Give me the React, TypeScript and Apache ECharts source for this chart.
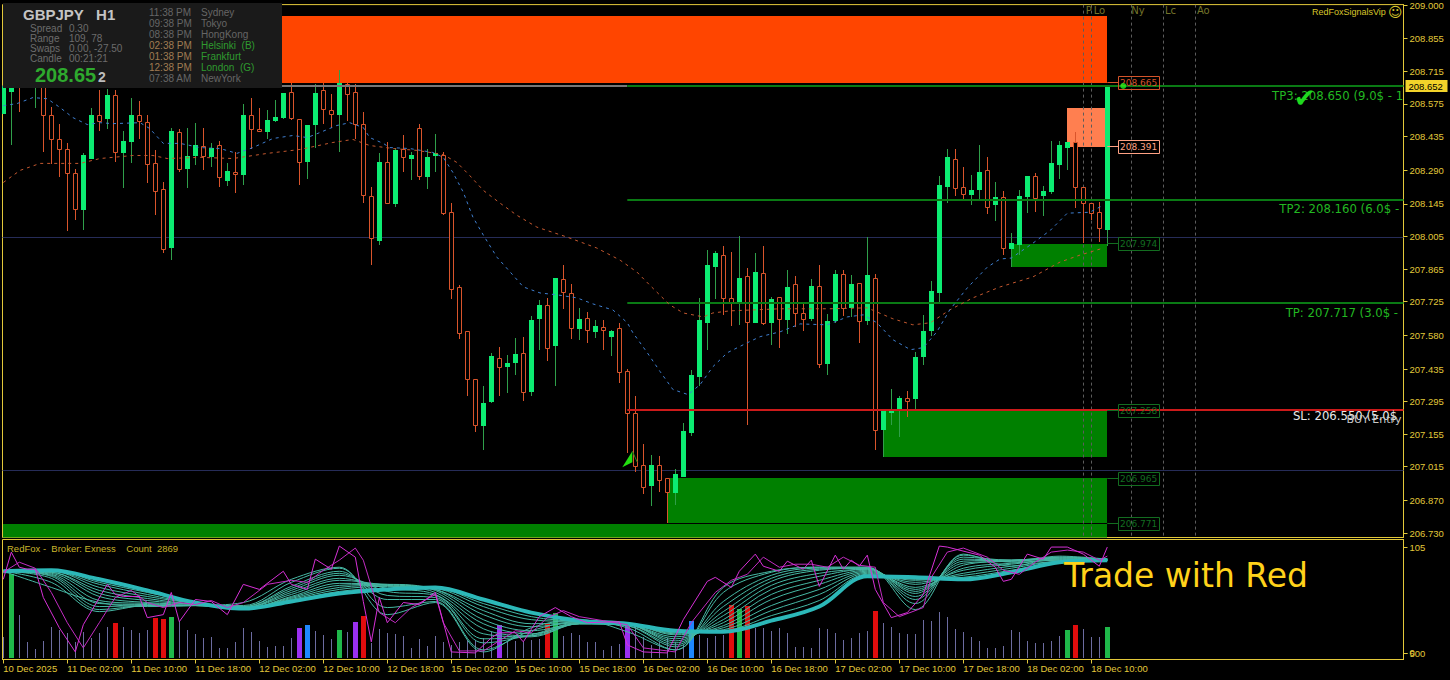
import React, { useEffect, useRef } from "react";
import * as echarts from "echarts";

const symbol = "GBPJPY   H1";
const opens = [208.533,208.627,208.696,208.717,208.653,208.674,208.529,208.426,208.383,208.276,208.118,208.340,208.525,208.512,208.614,208.362,208.413,208.525,208.499,208.319,208.208,207.955,208.452,208.293,208.349,208.392,208.345,208.400,208.242,208.280,208.267,208.525,208.469,208.456,208.503,208.516,208.627,208.512,208.323,208.486,208.636,208.550,208.525,208.661,208.627,208.490,208.178,207.985,208.323,208.143,208.379,208.340,208.473,208.259,208.349,208.357,208.109,207.788,207.599,207.394,207.188,207.295,207.484,207.445,207.462,207.505,207.338,207.651,207.711,207.535,207.822,207.762,207.608,207.655,207.595,207.616,207.574,207.612,207.428,207.244,207.021,206.931,207.021,206.965,206.901,206.970,207.158,207.402,207.634,207.873,207.925,207.741,207.719,207.835,207.634,207.848,207.634,207.745,207.646,207.801,207.676,207.651,207.792,207.458,207.642,207.843,207.698,207.805,207.642,207.826,207.175,207.248,207.257,207.312,207.304,207.488,207.599,207.762,208.216,208.340,208.216,208.182,208.203,208.289,208.139,208.173,207.951,207.968,208.173,208.263,208.178,208.195,208.310,208.387,208.409,208.216,208.148,208.109,208.032];
const closes = [208.653,208.653,208.653,208.674,208.696,208.525,208.426,208.379,208.276,208.122,208.353,208.525,208.503,208.614,208.366,208.417,208.525,208.503,208.315,208.199,207.951,208.460,208.297,208.349,208.400,208.349,208.387,208.259,208.285,208.272,208.525,208.465,208.460,208.507,208.520,208.623,208.516,208.323,208.486,208.623,208.554,208.533,208.666,208.619,208.490,208.182,207.998,208.327,208.148,208.375,208.345,208.357,208.263,208.345,208.362,208.105,207.779,207.591,207.394,207.193,207.291,207.492,207.445,207.462,207.501,207.338,207.646,207.711,207.527,207.826,207.766,207.612,207.651,207.604,207.621,207.604,207.599,207.424,207.244,207.017,206.927,207.021,206.957,206.905,206.983,207.167,207.411,207.646,207.882,207.933,207.741,207.719,207.826,207.638,207.852,207.634,207.736,207.651,207.788,207.676,207.651,207.792,207.458,207.642,207.843,207.698,207.801,207.642,207.839,207.171,207.257,207.257,207.312,207.299,207.488,207.599,207.771,208.225,208.345,208.212,208.186,208.203,208.280,208.130,208.173,207.955,207.976,208.178,208.263,208.169,208.199,208.319,208.400,208.409,208.216,208.148,208.105,208.040,208.649];
const highs = [208.674,208.657,208.717,208.739,208.717,208.696,208.563,208.490,208.405,208.297,208.362,208.559,208.636,208.640,208.636,208.460,208.602,208.589,208.525,208.375,208.237,208.473,208.469,208.473,208.494,208.473,208.405,208.417,208.319,208.366,208.576,208.602,208.559,208.550,208.593,208.623,208.666,208.512,208.486,208.661,208.666,208.619,208.721,208.666,208.661,208.542,208.216,208.362,208.409,208.387,208.439,208.370,208.490,208.383,208.447,208.366,208.148,207.796,207.599,207.394,207.364,207.505,207.531,207.497,207.569,207.574,207.664,207.732,207.741,207.826,207.882,207.801,207.698,207.681,207.646,207.646,207.604,207.634,207.437,207.321,207.111,207.064,207.060,206.965,207.004,207.205,207.432,207.741,207.946,207.942,207.963,207.938,208.006,207.869,207.933,207.963,207.745,207.745,207.861,207.835,207.719,207.822,207.882,207.672,207.861,207.861,207.839,207.805,208.002,207.843,207.257,207.351,207.317,207.342,207.509,207.668,207.813,208.263,208.383,208.379,208.302,208.267,208.396,208.345,208.237,208.199,208.019,208.203,208.263,208.276,208.220,208.417,208.417,208.409,208.456,208.216,208.148,208.152,208.653];
const lows = [208.533,208.396,208.542,208.653,208.559,208.366,208.315,208.259,208.028,208.075,208.032,208.340,208.460,208.465,208.327,208.212,208.319,208.426,208.233,208.096,207.933,207.903,208.280,208.212,208.310,208.289,208.302,208.216,208.220,208.190,208.225,208.383,208.460,208.426,208.499,208.512,208.507,208.225,208.250,208.387,208.490,208.473,208.366,208.503,208.422,208.148,207.882,207.968,208.148,208.130,208.280,208.246,208.246,208.208,208.280,208.096,207.736,207.565,207.317,207.163,207.085,207.287,207.321,207.334,207.411,207.299,207.317,207.518,207.471,207.360,207.694,207.565,207.561,207.548,207.569,207.518,207.492,207.377,207.072,206.991,206.897,206.846,206.905,206.773,206.850,206.970,207.145,207.360,207.518,207.736,207.668,207.621,207.625,207.193,207.634,207.625,207.539,207.527,207.587,207.616,207.599,207.642,207.441,207.411,207.634,207.664,207.659,207.548,207.625,207.085,207.055,207.193,207.141,207.227,207.261,207.454,207.578,207.719,208.148,208.178,208.165,208.139,208.165,208.100,208.070,207.925,207.873,207.925,208.105,208.109,208.092,208.186,208.250,208.289,208.126,207.976,208.075,207.981,207.963];

const fastMaBars = [0,1.7,3.7,5.5,7.1,8.7,10.5,12.1,13.7,17.1,18.3,20,22.1,24.6,27.1,29.2,31.2,33.7,36.2,38,39.6,41.7,43.3,45,45.8,47.5,48.3,50.8,53.7,55,56.2,57.5,58.7,60,61.7,63.7,65,67.1,69.2,71.7,73.7,76.2,78,78.7,80.5,82.1,83.7,85.6,87.1,88.7,90.5,93,94.6,97.1,99.6,103,105.5,107.5,109.2,111.2,113.4,115,116.7,118.3,120.5,123,124.6,126,128.7,130.9,133,135.8,137.5];
const fastMa = [208.567,208.576,208.602,208.597,208.559,208.516,208.486,208.494,208.490,208.494,208.469,208.405,208.405,208.387,208.383,208.362,208.387,208.426,208.439,208.430,208.452,208.482,208.494,208.473,208.430,208.405,208.387,208.383,208.366,208.345,208.280,208.195,208.088,208.011,207.916,207.839,207.788,207.762,207.754,207.741,207.715,207.689,207.634,207.591,207.505,207.424,207.347,207.325,207.368,207.445,207.505,207.548,207.574,207.595,207.629,207.625,207.659,207.668,207.634,207.561,207.518,207.527,207.595,207.689,207.784,207.873,207.908,207.912,207.976,208.032,208.105,208.109,208.139];
const slowMaBars = [0,2.1,4.6,9.6,12.1,16.2,18.7,20.5,24.6,28.7,33,37.1,41.2,43.7,45.8,48.7,51.7,55,56.7,58.3,60,62.1,64.2,66.7,70.5,74.2,77.1,79.2,80.8,83.3,85,87.5,88.7,90.8,97.1,103.3,108,111.2,113.7,115.9,118.3,121.2,124.6,128.7,132.1,134.6,137.5];
const slowMa = [208.237,208.289,208.319,208.319,208.340,208.353,208.353,208.340,208.345,208.340,208.362,208.379,208.409,208.422,208.396,208.383,208.375,208.357,208.323,208.267,208.203,208.148,208.096,208.045,208.002,207.955,207.903,207.852,207.796,207.711,207.676,207.659,207.676,207.685,207.694,207.694,207.698,207.651,207.625,207.634,207.689,207.741,207.788,207.831,207.895,207.925,207.955];

// zones: first bar, last bar, upper price, lower price
const zoneOrange = [30, 138, 208.953, 208.665];
const zoneSalmon = [133, 137.7, 208.559, 208.391];
const zoneGreenA = [126, 138, 207.974, 207.873];
const zoneGreenB = [110, 138, 207.258, 207.055];
const zoneGreenC = [83, 138, 206.965, 206.775];
const zoneGreenD = [-0.1, 138, 206.768, 206.705];

const tp3Price = 208.652;
const tp2Price = 208.16;
const tp1Price = 207.717;
const entryPrice = 207.258;
const tradeStartBar = 78;
const roundLevels = [208, 207];
const sessionBars = [135, 136, 141, 145, 149];
const sessionTags = ["P", "Lo", "Ny", "Lc", "Ao"];
const levelPrices = [208.665, 208.391, 207.974, 207.258, 206.965, 206.771];
const priceTicks = [209,208.855,208.715,208.575,208.435,208.29,208.145,208.005,207.865,207.725,207.58,207.435,207.295,207.155,207.015,206.87,206.73];
const lastPrice = 208.652;
const timeTickBars = [0,8,16,24,32,40,48,56,64,72,80,88,96,104,112,120,128,136];
const timeLabels = ["10 Dec 2025","11 Dec 02:00","11 Dec 10:00","11 Dec 18:00","12 Dec 02:00","12 Dec 10:00","12 Dec 18:00","15 Dec 02:00","15 Dec 10:00","15 Dec 18:00","16 Dec 02:00","16 Dec 10:00","16 Dec 18:00","17 Dec 02:00","17 Dec 10:00","17 Dec 18:00","18 Dec 02:00","18 Dec 10:00"];

const volumes = [2165,8392,4329,1665,932,1732,3164,2831,2498,1665,2664,2065,2498,3164,3530,3164,2831,2564,2831,4063,3929,4163,3730,2831,2398,2065,2165,1066,1066,1598,3064,2664,1732,1166,1232,1232,2065,3064,3330,2731,2331,1931,2831,2597,3596,4229,1499,2930,2564,2431,2231,1066,1931,1232,2264,1665,1332,1598,1832,1832,1998,2664,3330,1665,1732,1665,1832,1931,3530,4496,2264,2498,2331,1665,1665,833,1265,1399,3596,3397,2165,1332,1665,1998,1665,1332,3730,2331,1998,2264,2331,5328,4928,5228,2997,2997,2731,2997,2498,1166,1166,999,3064,2930,2498,1832,2065,2498,2731,4729,3497,3164,2498,2431,2431,3830,3730,4662,4163,2930,2597,2165,1732,999,1066,1265,2831,2664,1732,1499,1499,1732,2264,2831,3330,2930,2165,2165,3130];
const signalGreen = [1,21,42,69,92,133,138];
const signalRed = [14,19,20,45,68,91,93,109,134];
const signalPurple = [37,44,62,78];
const signalBlue = [38,86];

const ribbonBars = [0,6,12,18,24,30,36,42,48,54,60,66,72,78,84,90,96,102,108,114,120,126,132,138];
const ribbon1 = [81,65,50,46,47,50,73,85,38,50,1,25,33,21,3,65,81,85,85,43,98,86,95,93];
const ribbon2 = [81,70,41,47,47,47,70,84,45,51,3,22,31,25,3,60,80,85,85,49,97,90,96,93];
const ribbon3 = [81,74,43,47,47,46,66,81,53,53,10,18,30,27,6,51,77,84,84,53,95,92,95,93];
const ribbon4 = [81,76,46,47,47,46,64,79,57,55,14,17,29,27,8,46,74,83,84,56,93,92,94,93];
const ribbon5 = [81,77,49,48,47,45,62,77,61,57,19,16,29,28,10,41,71,82,84,59,91,92,94,93];
const ribbon6 = [81,78,52,49,47,45,60,74,64,58,24,17,29,28,12,37,67,79,83,61,89,91,93,92];
const ribbon7 = [81,79,56,50,48,45,58,72,67,60,29,19,29,28,14,33,63,76,83,63,87,91,93,92];
const ribbon8 = [81,80,59,52,48,44,56,69,68,62,33,22,29,28,16,30,58,72,82,65,84,89,92,92];
const ribbon9 = [81,80,62,54,48,44,55,67,68,63,38,26,30,29,18,27,53,68,81,68,82,88,92,92];
const ribbon10 = [81,81,65,56,49,44,54,65,67,63,42,29,30,29,19,25,47,63,80,70,79,86,91,92];
const ribbon11 = [81,81,68,58,49,44,53,63,66,64,46,33,31,29,20,23,42,58,79,72,77,84,91,92];
const ribbon12 = [81,82,70,60,50,44,52,61,64,64,49,36,31,29,21,22,37,52,78,73,75,82,90,92];
const ribbon13 = [81,82,73,62,50,44,51,59,63,65,53,40,32,29,22,21,32,46,76,75,73,80,90,92];

const oscABars = [0,1,2,3,4,5,7,9,10,13,14,15,17,18,20,21,22,24,26,28,30,32,35,36,38,39,41,42,44,45,46,47,48,50,52,54,56,59,61,62,64,65,67,69,71,73,77,78,80,83,85,88,89,91,92,94,95,97,98,100,101,102,104,105,106,107,108,109,111,113,115,117,118,122,124,125,126,128,130,131,133,135,137,138];
const oscA = [73,100,85,83,83,55,25,1,28,68,58,56,56,35,38,60,31,53,51,38,68,63,81,68,63,93,83,106,95,51,11,55,30,50,48,60,1,0,15,20,20,11,36,45,36,30,31,8,1,0,33,71,75,65,81,98,86,81,91,83,92,66,97,83,92,86,97,63,35,40,58,106,105,97,85,71,73,98,93,105,105,98,86,105];
const oscBBars = [0,2,4,6,8,10,12,14,16,18,20,22,24,26,28,30,33,36,38,40,42,44,45,47,49,51,54,55,57,60,62,64,66,68,70,72,75,78,80,84,86,89,91,93,95,97,99,101,103,105,107,109,110,112,115,116,118,120,123,125,127,129,131,133,135,137,138];
const oscB = [80,90,84,60,30,5,30,55,62,50,45,50,48,52,45,50,68,72,70,82,92,104,92,40,30,45,58,30,2,2,12,22,20,35,42,36,32,28,5,1,30,60,72,78,95,85,88,88,85,95,87,85,50,36,45,75,100,104,95,82,78,90,100,102,100,92,96];

const infoLabels = ["Spread", "Range", "Swaps", "Candle"];
const infoValues = ["0.30", "109, 78", "0.00, -27.50", "00:21:21"];
const sessionTimes = ["11:38 PM","09:38 PM","08:38 PM","02:38 PM","01:38 PM","12:38 PM","07:38 AM"];
const sessionNames = ["Sydney","Tokyo","HongKong","Helsinki  (B)","Frankfurt","London  (G)","NewYork"];

const UI = '"Liberation Sans", Arial, sans-serif';
const DV = '"DejaVu Sans", sans-serif';
const YEL = "#e2c83a";
const MAXK = 175.025;

function pair(xs: number[], ys: number[]) {
  return xs.map((x, i) => [x, ys[i]]);
}

function zone(range: number[], color: string) {
  return {
    type: "custom", xAxisIndex: 0, yAxisIndex: 0, clip: true, silent: true,
    data: [range], encode: { x: [0, 1], y: [2, 3] },
    renderItem(_: any, api: any) {
      const a = api.coord([api.value(0), api.value(2)]);
      const b = api.coord([api.value(1), api.value(3)]);
      const x = Math.round(a[0]), y = Math.round(a[1]);
      return { type: "rect", shape: { x, y, width: Math.round(b[0]) - x, height: Math.round(b[1]) - y }, style: { fill: color } };
    },
  };
}

function hLine(k0: number, k1: number, price: number, color: string, width: number) {
  return {
    type: "custom", xAxisIndex: 0, yAxisIndex: 0, clip: true, silent: true,
    data: [[k0, k1, price]], encode: { x: [0, 1], y: 2 },
    renderItem(_: any, api: any) {
      const a = api.coord([api.value(0), api.value(2)]);
      const b = api.coord([api.value(1), api.value(2)]);
      const y = width % 2 ? Math.floor(a[1]) + 0.5 : Math.round(a[1]);
      return { type: "line", shape: { x1: a[0], y1: y, x2: b[0], y2: y }, style: { stroke: color, lineWidth: width } };
    },
  };
}

function ribbon(values: number[], color: string, width: number) {
  return {
    type: "line", xAxisIndex: 1, yAxisIndex: 1, showSymbol: false, smooth: 0.35, silent: true,
    data: pair(ribbonBars, values), lineStyle: { color, width },
  };
}

function priceText(k: number, price: number, text: string, color: string, size: number) {
  return {
    type: "custom", xAxisIndex: 0, yAxisIndex: 0, clip: false, silent: true, z: 6,
    data: [[k, price]], encode: { x: 0, y: 1 },
    renderItem(_: any, api: any) {
      const c = api.coord([api.value(0), api.value(1)]);
      return { type: "text", style: { x: c[0], y: c[1], text, fill: color, fontFamily: DV, fontSize: size, align: "left", verticalAlign: "middle" } };
    },
  };
}

function panelText(x: number, y: number, text: string, fill: string, size = 10, weight = "normal", font = UI) {
  return { type: "text", x, y, z: 101, silent: true, style: { text, fill, fontFamily: font, fontSize: size, fontWeight: weight, verticalAlign: "middle" } };
}

export default function App() {
  const ref = useRef<HTMLDivElement>(null);
  useEffect(() => {
    document.body.style.margin = "0";
    document.body.style.background = "#000";
    const chart = echarts.init(ref.current!, undefined, { renderer: "svg" });
    const candleData = opens.map((o, i) => [i, o, highs[i], lows[i], closes[i]]);
    const volumeData = volumes.map((v, i) => [i, v]);
    const signalColor = (i: number) =>
      signalGreen.includes(i) ? "#1fb84a" : signalRed.includes(i) ? "#e00d0d" : signalPurple.includes(i) ? "#9b30f0" : signalBlue.includes(i) ? "#1e88ff" : null;

    const graphics: any[] = [
      { type: "rect", z: 100, silent: true, shape: { x: 3, y: 3, width: 279, height: 85 }, style: { fill: "#1a1a1a" } },
      panelText(23, 14, symbol, "#c4c4c4", 15, "bold"),
      panelText(35, 75, "208.65", "#2eaa2e", 20, "bold"),
      panelText(98, 77, "2", "#bdbdbd", 14, "bold"),
      ...infoLabels.map((t, i) => panelText(30, 28 + i * 10, t, "#6c6c6c")),
      ...infoValues.map((t, i) => panelText(69, 28 + i * 10, t, "#6c6c6c")),
      ...sessionTimes.map((t, i) => panelText(149, 12 + i * 11, t, i >= 3 && i <= 5 ? "#a07c52" : "#666666")),
      ...sessionNames.map((t, i) => panelText(201, 12 + i * 11, t, i >= 3 && i <= 5 ? "#2f9a2f" : "#666666")),
      panelText(1312, 12, "RedFoxSignalsVip", "#d8c52a", 9),
      panelText(1388, 12, "\u263A", "#d8c52a", 14, "normal", DV),
      panelText(7, 548, "RedFox -  Broker: Exness    Count  2869", "#c9b62c", 9.5),
      panelText(1064, 575, "Trade with Red", "#ffd21a", 33, "normal", DV),
    ];

    const thin = "#46b8a4";
    const series: any[] = [
      zone(zoneOrange, "#ff4500"),
      zone(zoneSalmon, "#ff7f50"),
      zone(zoneGreenA, "#008000"),
      zone(zoneGreenB, "#008000"),
      zone(zoneGreenC, "#008000"),
      zone(zoneGreenD, "#008000"),
      ...roundLevels.map((p) => hLine(-0.1, MAXK, p, "#262c58", 1)),
      {
        type: "custom", xAxisIndex: 0, yAxisIndex: 0, clip: true, silent: true,
        data: sessionBars.map((k) => [k]), encode: { x: 0 },
        renderItem(params: any, api: any) {
          const x = Math.floor(api.coord([api.value(0), 208])[0]) + 0.5;
          const s = params.coordSys;
          return { type: "line", shape: { x1: x, y1: s.y, x2: x, y2: s.y + s.height }, style: { stroke: "#5c5c5c", lineWidth: 1, lineDash: [3, 3] } };
        },
      },
      {
        type: "custom", xAxisIndex: 0, yAxisIndex: 0, clip: true, silent: true,
        data: candleData, encode: { x: 0, y: [1, 2, 3, 4] },
        renderItem(_: any, api: any) {
          const k = api.value(0), o = api.value(1), h = api.value(2), l = api.value(3), c = api.value(4);
          const up = c >= o;
          const cx = Math.floor(api.coord([k, o])[0]);
          const yO = Math.round(api.coord([k, o])[1]), yC = Math.round(api.coord([k, c])[1]);
          const yH = Math.round(api.coord([k, h])[1]), yL = Math.round(api.coord([k, l])[1]);
          const top = Math.min(yO, yC), bot = Math.max(yO, yC);
          const wick = { type: "line", shape: { x1: cx + 0.5, y1: yH, x2: cx + 0.5, y2: yL }, style: { stroke: up ? "#2f9f4a" : "#d9542b", lineWidth: 1 } };
          const body = up
            ? { type: "rect", shape: { x: cx - 2, y: top, width: 5, height: Math.max(bot - top, 2) }, style: { fill: "#0cec72" } }
            : { type: "rect", shape: { x: cx - 1.5, y: top + 0.5, width: 4, height: Math.max(bot - top, 2) }, style: { fill: "#000", stroke: "#d9542b", lineWidth: 1 } };
          return { type: "group", children: [wick, body] };
        },
      },
      {
        type: "line", xAxisIndex: 0, yAxisIndex: 0, showSymbol: false, silent: true,
        data: pair(slowMaBars, slowMa), lineStyle: { color: "#c4582f", width: 1, type: [3, 4] },
      },
      {
        type: "line", xAxisIndex: 0, yAxisIndex: 0, showSymbol: false, silent: true,
        data: pair(fastMaBars, fastMa), lineStyle: { color: "#3f7fd0", width: 1, type: [3, 4] },
      },
      hLine(-0.1, tradeStartBar, lastPrice, "#777777", 2),
      hLine(tradeStartBar, MAXK, tp3Price, "#0a7a14", 2),
      hLine(tradeStartBar, MAXK, tp2Price, "#0a7a14", 2),
      hLine(tradeStartBar, MAXK, tp1Price, "#0a7a14", 2),
      hLine(tradeStartBar, MAXK, entryPrice, "#cc1a1a", 2),
      {
        type: "custom", xAxisIndex: 0, yAxisIndex: 0, clip: true, silent: true,
        data: levelPrices.map((p, i) => [i, p]), encode: { y: 1 },
        renderItem(_: any, api: any) {
          const i = api.value(0), p = api.value(1);
          const color = i === 0 ? "#d5542a" : i === 1 ? "#ffa284" : "#136d20";
          const end = api.coord([138, p]);
          const y = Math.floor(end[1]) + 0.5;
          return {
            type: "group",
            children: [
              { type: "line", shape: { x1: end[0], y1: y, x2: end[0] + 11, y2: y }, style: { stroke: color, lineWidth: 1 } },
              { type: "rect", shape: { x: Math.floor(end[0]) + 11.5, y: y - 6, width: 41, height: 13 }, style: { fill: "none", stroke: color, lineWidth: 1 } },
              { type: "text", style: { x: Math.floor(end[0]) + 13, y: y + 0.5, text: p.toFixed(3), fill: color, fontFamily: DV, fontSize: 9, align: "left", verticalAlign: "middle" } },
            ],
          };
        },
      },
      {
        type: "custom", xAxisIndex: 0, yAxisIndex: 0, clip: true, silent: true, z: 5,
        data: [[tradeStartBar, 207.0]], encode: { x: 0, y: 1 },
        renderItem(_: any, api: any) {
          const c = api.coord([api.value(0), api.value(1)]);
          const X = c[0], Y = c[1];
          return {
            type: "group",
            children: [
              { type: "polygon", shape: { points: [[X - 5, Y - 3], [X + 5, Y - 19], [X + 5, Y - 8]] }, style: { fill: "#22e010" } },
              { type: "line", shape: { x1: X + 5, y1: Y - 19, x2: X + 10, y2: Y - 8 }, style: { stroke: "#2a8a1a", lineWidth: 1 } },
            ],
          };
        },
      },
      {
        type: "scatter", xAxisIndex: 0, yAxisIndex: 0, silent: true, symbolSize: 6, z: 6,
        data: [[140, lastPrice]], itemStyle: { color: "#1cf01c" },
      },
      ...sessionBars.map((k, i) =>
        priceText(k + (i === 0 ? 0.3 : i === 1 ? 0.3 : i === 2 ? 0 : 0.2), 208.975, sessionTags[i], "#74742a", 10)),
      priceText(158.6, 208.61, "TP3: 208.650 (9.0$ - 1", "#22b822", 11.7),
      priceText(159.5, 208.122, "TP2: 208.160 (6.0$ -", "#22b822", 11.7),
      priceText(160.3, 207.676, "TP: 207.717 (3.0$ -", "#22b822", 11.7),
      priceText(161.2, 207.231, "SL: 206.550 (5.0$", "#e8e8e8", 11.7),
      priceText(167.9, 207.218, "BUY Entry", "#c8c8c8", 11),
      priceText(161.3, 208.6, "\u2714", "#1fd81f", 26),
      {
        type: "custom", xAxisIndex: 0, yAxisIndex: 0, clip: false, silent: true, z: 7,
        data: [[MAXK, lastPrice]], encode: { x: 0, y: 1 },
        renderItem(_: any, api: any) {
          const c = api.coord([api.value(0), api.value(1)]);
          return {
            type: "group",
            children: [
              { type: "rect", shape: { x: c[0] + 2, y: Math.round(c[1]) - 6, width: 42, height: 12 }, style: { fill: "#f2d32a" } },
              { type: "text", style: { x: c[0] + 5, y: Math.round(c[1]), text: api.value(1).toFixed(3), fill: "#000", fontFamily: UI, fontSize: 9.5, align: "left", verticalAlign: "middle" } },
            ],
          };
        },
      },
      // indicator pane
      {
        type: "custom", xAxisIndex: 1, yAxisIndex: 2, clip: true, silent: true,
        data: volumeData, encode: { x: 0, y: 1 },
        renderItem(_: any, api: any) {
          const k = api.value(0), v = api.value(1);
          const top = api.coord([k, v]), base = api.coord([k, 0]);
          const cx = Math.floor(top[0]);
          const col = signalColor(k);
          const y = Math.round(top[1]), h = Math.round(base[1]) - y;
          return col
            ? { type: "rect", shape: { x: cx - 2, y, width: 5, height: h }, style: { fill: col } }
            : { type: "rect", shape: { x: cx, y, width: 1, height: h }, style: { fill: "#6c6ca0" } };
        },
      },
      ...[ribbon1, ribbon2, ribbon3, ribbon4, ribbon5, ribbon6, ribbon7, ribbon8, ribbon9, ribbon10, ribbon11, ribbon12].map((r) => ribbon(r, thin, 1)),
      ribbon(ribbon13, "#2cb8b8", 4),
      {
        type: "line", xAxisIndex: 1, yAxisIndex: 1, showSymbol: false, silent: true,
        data: pair(oscBBars, oscB), lineStyle: { color: "#c22cc2", width: 1 },
      },
      {
        type: "line", xAxisIndex: 1, yAxisIndex: 1, showSymbol: false, silent: true,
        data: pair(oscABars, oscA), lineStyle: { color: "#d630d6", width: 1 },
      },
    ];

    const frame = { show: true, borderColor: YEL, borderWidth: 1, backgroundColor: "#000" };
    const rightAxis = (min: number, max: number, gridIndex: number, ticks: number[], fmt: (v: number) => string) => ({
      type: "value", gridIndex, position: "right", min, max, scale: true,
      splitLine: { show: false },
      axisLine: { show: true, onZero: false, lineStyle: { color: YEL } },
      axisTick: { show: true, length: 4, customValues: ticks, lineStyle: { color: YEL } },
      axisLabel: { show: true, customValues: ticks, formatter: fmt, color: YEL, fontFamily: UI, fontSize: 9.5, margin: 6, align: "left" },
    });

    chart.setOption({
      animation: false,
      backgroundColor: "#000",
      grid: [
        { left: 2.5, top: 2.5, width: 1401, height: 535, ...frame },
        { left: 2.5, top: 539.5, width: 1401, height: 120, ...frame },
      ],
      xAxis: [
        { type: "value", gridIndex: 0, min: -0.1, max: MAXK, show: false, splitLine: { show: false } },
        {
          type: "value", gridIndex: 1, min: -0.1, max: MAXK, splitLine: { show: false },
          axisLine: { show: true, onZero: false, lineStyle: { color: YEL } },
          axisTick: { show: true, length: 4, customValues: timeTickBars, lineStyle: { color: YEL } },
          axisLabel: {
            show: true, customValues: timeTickBars, color: YEL, fontFamily: UI, fontSize: 9.5, margin: 4, align: "left",
            formatter: (v: number) => timeLabels[timeTickBars.indexOf(v)],
          },
        },
      ],
      yAxis: [
        rightAxis(206.7107, 209.0017, 0, priceTicks, (v) => v.toFixed(3)),
        rightAxis(-6.5, 112.5, 1, [105, 0], (v) => String(v)),
        rightAxis(-120, 11880, 1, [500], (v) => String(v)),
      ],
      graphic: { elements: graphics },
      series,
    });
    return () => chart.dispose();
  }, []);
  return <div ref={ref} style={{ width: 1450, height: 680, background: "#000" }} />;
}
